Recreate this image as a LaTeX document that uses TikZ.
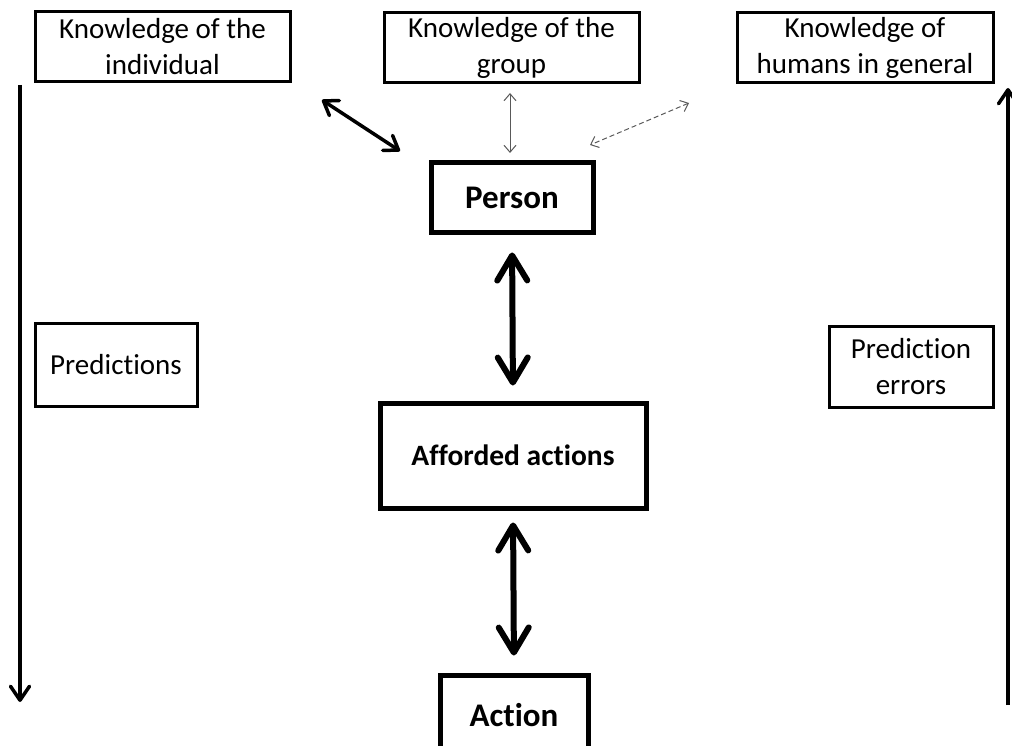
\documentclass[tikz,border=0pt]{standalone}
\usepackage{fontspec}
\setmainfont{Carlito}[Ligatures={NoCommon,NoRare,NoDiscretionary}]
\usetikzlibrary{arrows.meta}

\begin{document}
\begin{tikzpicture}[x=1pt, y=-1pt,
    knowbox/.style={draw, line width=3pt, inner sep=0pt, align=center, font=\fontsize{29}{36}\selectfont},
    mainbox/.style={draw, line width=5pt, inner sep=0pt, font=\bfseries\fontsize{33}{40}\selectfont},
    bigarrow/.style={line width=6pt, {Straight Barb[round, length=25pt, width=30pt]}-{Straight Barb[round, length=25pt, width=30pt]}},
    midarrow/.style={line width=3.5pt, {Straight Barb[round, length=13pt, width=18pt]}-{Straight Barb[round, length=13pt, width=18pt]}},
    thinarrow/.style={line width=1pt, black!65, {Straight Barb[length=7pt, width=12pt]}-{Straight Barb[length=7pt, width=12pt]}},
    longarrow/.style={line width=3.5pt, -{Straight Barb[round, length=14pt, width=19pt]}}]
    \useasboundingbox (0,0) rectangle (1012,746);
    \clip (0,0) rectangle (1012,746);

    % top row
    \node[knowbox, minimum width=255pt, minimum height=70pt] (indiv) at (162.5,47) {Knowledge of the\\individual};
    \node[knowbox, minimum width=255pt, minimum height=70pt] (group) at (511.5,47.5) {Knowledge of the\\group};
    \node[knowbox, minimum width=256pt, minimum height=70pt] (humans) at (865,47.5) {Knowledge of\\humans in general};

    % middle column
    \node[mainbox, minimum width=162pt, minimum height=70pt] (person) at (512,198) {Person};
    \node[mainbox, minimum width=266pt, minimum height=105pt, font=\bfseries\fontsize{29.5}{36}\selectfont] (afforded) at (513,455.5) {Afforded actions};
    \node[mainbox, minimum width=148pt, minimum height=80pt] (action) at (514,715) {Action};

    % side boxes
    \node[knowbox, minimum width=162pt, minimum height=83pt] (pred) at (116,364.5) {Predictions};
    \node[knowbox, minimum width=164pt, minimum height=81pt] (errors) at (911,366.5) {Prediction\\errors};

    \coordinate (d1) at (322,100);
    \coordinate (d2) at (400,151);
    \coordinate (g1) at (510,93);
    \coordinate (g2) at (510,153);
    \coordinate (h1) at (689,103);
    \coordinate (h2) at (590,145);
    \coordinate (predtop) at (20,85);
    \coordinate (predend) at (20,702);
    \coordinate (errbot) at (1008,705);
    \coordinate (errend) at (1008,88);

    \draw[midarrow] (d1) -- (d2);
    \draw[thinarrow] (g1) -- (g2);
    \draw[thinarrow, dash pattern=on 5pt off 3pt] (h1) -- (h2);

    \draw[bigarrow, shorten <=17pt, shorten >=15pt] (person.south) -- (afforded.north);
    \draw[bigarrow, shorten <=12pt, shorten >=17pt] (afforded.south) -- (action.north);

    \draw[longarrow] (predtop) -- (predend);
    \draw[longarrow] (errbot) -- (errend);
\end{tikzpicture}
\end{document}
